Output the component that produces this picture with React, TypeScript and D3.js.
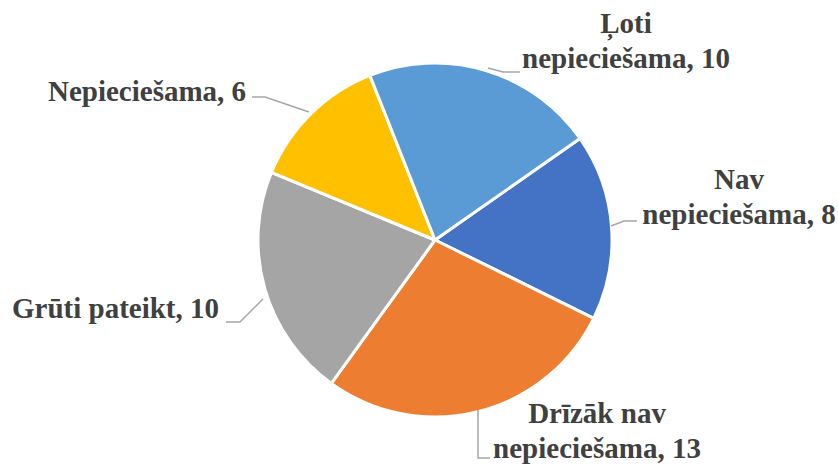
import React from "react";
import * as d3 from "d3";

const categories = ["Nav nepieciešama", "Drīzāk nav nepieciešama", "Grūti pateikt", "Nepieciešama", "Ļoti nepieciešama"];
const values = [8, 13, 10, 6, 10];
const colors = ["#4472C4", "#ED7D31", "#A5A5A5", "#FFC000", "#5B9BD5"];
const labelLines = [
  ["Nav", "nepieciešama, 8"],
  ["Drīzāk nav", "nepieciešama, 13"],
  ["Grūti pateikt, 10"],
  ["Nepieciešama, 6"],
  ["Ļoti", "nepieciešama, 10"],
];

const W = 838, H = 468;
const cx = 435, cy = 240, R = 177;
const startDeg = 55;

// label layout: anchor position (x, first baseline), text-anchor, leader polyline
const labelLayout = [
  { x: 739, y: 189, anchor: "middle", leader: [[611, 226], [624, 221], [637, 221]] },
  { x: 597, y: 423, anchor: "middle", leader: [[478, 410], [478, 458], [490, 458]] },
  { x: 12, y: 318, anchor: "start", leader: [[226, 322], [240, 322], [263, 299]] },
  { x: 48, y: 101, anchor: "start", leader: [[252, 97], [265, 97], [309, 112]] },
  { x: 626, y: 33, anchor: "middle", leader: [[488, 68], [503, 72], [520, 72]] },
];

export default function App() {
  const pie = d3
    .pie<number>()
    .sort(null)
    .startAngle((startDeg * Math.PI) / 180)
    .endAngle((startDeg * Math.PI) / 180 + 2 * Math.PI);
  const arcs = pie(values);
  const arc = d3.arc<d3.PieArcDatum<number>>().innerRadius(0).outerRadius(R);
  const line = d3.line();
  return (
    <svg width={W} height={H} style={{ position: "absolute", left: 0, top: 0, background: "#fff" }}>
      <g transform={`translate(${cx},${cy})`}>
        {arcs.map((a, i) => (
          <path key={categories[i]} d={arc(a) || ""} fill={colors[i]} stroke="#fff" strokeWidth={3} strokeLinejoin="round" />
        ))}
      </g>
      {labelLayout.map((l, i) => (
        <g key={i}>
          <path d={line(l.leader as [number, number][]) || ""} fill="none" stroke="#A6A6A6" strokeWidth={1.5} />
          <text
            x={l.x}
            y={l.y}
            textAnchor={l.anchor as any}
            style={{ fontFamily: '"Liberation Serif"', fontWeight: 700, fontSize: "29px" }}
            fill="#404040"
          >
            {labelLines[i].map((t, j) => (
              <tspan key={j} x={l.x} dy={j === 0 ? 0 : 35}>
                {t}
              </tspan>
            ))}
          </text>
        </g>
      ))}
    </svg>
  );
}
